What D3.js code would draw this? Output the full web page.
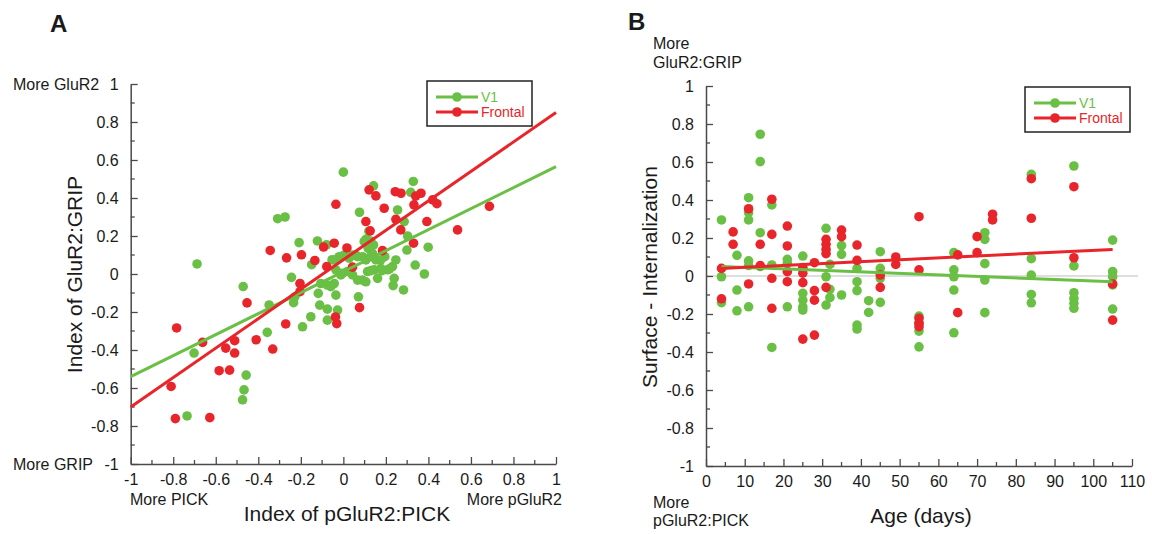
<!DOCTYPE html>
<html>
<head>
<meta charset="utf-8">
<script src="https://cdn.jsdelivr.net/npm/d3@7"></script>
<style>
  html, body { margin: 0; padding: 0; background: #fff; }
  svg { display: block; font-family: "Liberation Sans", Arial, sans-serif; }
</style>
</head>
<body>
<svg id="fig" width="1152" height="534"></svg>
<script>
// ---------- Panel A: index of pGluR2:PICK vs index of GluR2:GRIP ----------
const aV1 = [
  [-0.688, 0.053], [-0.471, -0.066], [-0.349, -0.163], [-0.358, -0.307], [-0.702, -0.416],
  [-0.457, -0.532], [-0.467, -0.61], [-0.474, -0.662], [-0.735, -0.747], [-0.309, 0.291],
  [-0.274, 0.30], [0.0, 0.536], [0.142, 0.464], [0.329, 0.487], [0.317, 0.43],
  [0.076, 0.325], [0.255, 0.337], [0.286, 0.276], [0.107, 0.183], [0.098, 0.171],
  [0.129, 0.174], [0.142, 0.153], [0.12, 0.225], [0.302, 0.2], [0.399, 0.141], [-0.208, 0.165],
  [-0.122, 0.174], [-0.079, 0.154], [0.299, 0.126], [0.195, 0.091], [0.338, 0.047],
  [0.381, 0.0], [-0.244, -0.018], [0.283, -0.084], [-0.234, -0.151], [-0.228, -0.12],
  [0.071, -0.12], [-0.111, -0.164], [-0.075, -0.185], [-0.027, -0.19], [-0.075, -0.243],
  [-0.153, -0.225], [-0.192, -0.278], [-0.118, -0.102], [-0.059, -0.067], [-0.035, -0.111],
  [-0.043, 0.074], [-0.02, 0.091], [0.004, 0.1], [0.027, 0.083], [0.043, 0.1],
  [0.067, 0.091], [0.09, 0.091], [0.106, 0.074], [0.129, 0.091], [0.153, 0.074],
  [0.176, 0.074], [-0.035, 0.022], [-0.004, 0.004], [0.019, 0.013], [0.043, -0.005],
  [0.067, -0.032], [0.09, -0.032], [0.106, -0.041], [0.114, 0.013], [0.145, 0.022],
  [0.176, 0.03], [0.208, 0.022], [0.231, 0.039], [0.247, 0.074], [0.239, -0.023],
  [0.161, -0.023], [-0.106, -0.05], [-0.075, -0.058], [-0.043, -0.05], [-0.012, -0.005],
  [0.117, 0.135], [0.137, 0.109], [-0.149, 0.049], [0.234, -0.061], [0.06, 0.098],
  [-0.053, 0.075], [0.13, 0.018], [0.182, 0.018], [0.217, 0.027]
];
const aFrontal = [
  [-0.784, -0.284], [-0.662, -0.36], [-0.553, -0.39], [-0.511, -0.351], [-0.511, -0.416],
  [-0.584, -0.509], [-0.535, -0.506], [-0.41, -0.346], [-0.332, -0.395], [-0.453, -0.152],
  [-0.271, -0.263], [-0.81, -0.592], [-0.79, -0.761], [-0.628, -0.756], [-0.344, 0.124],
  [-0.267, 0.085], [0.121, 0.443], [0.153, 0.411], [0.244, 0.433], [0.271, 0.425],
  [0.34, 0.41], [0.365, 0.425], [0.42, 0.39], [0.44, 0.37], [0.332, 0.364],
  [-0.035, 0.367], [0.192, 0.346], [0.106, 0.276], [0.247, 0.288], [0.126, 0.227],
  [0.27, 0.232], [0.393, 0.276], [0.537, 0.232], [0.687, 0.356], [0.33, 0.162],
  [0.184, 0.123], [-0.197, 0.101], [-0.134, 0.071], [-0.093, 0.142], [-0.043, 0.162],
  [0.017, 0.137], [-0.078, 0.039], [0.043, 0.036], [-0.204, -0.05], [-0.204, -0.093],
  [0.076, -0.177], [-0.037, -0.226], [-0.031, -0.261]
];
const aFitV1 = [[-1, -0.54], [1, 0.565]];
const aFitFrontal = [[-1, -0.70], [1, 0.85]];

// ---------- Panel B: surface minus internalization vs age ----------
const bV1 = [
  [4, 0.295], [4, -0.004], [4, -0.14],
  [8, 0.109], [8, -0.074], [8, -0.183],
  [11, 0.412], [11, 0.333], [11, 0.295], [11, 0.08], [11, 0.055], [11, -0.162],
  [14, 0.746], [14, 0.602], [14, 0.228], [14, 0.05],
  [17, 0.374], [17, 0.058], [17, -0.376],
  [21, 0.088], [21, 0.067], [21, -0.162],
  [25, 0.105], [25, 0.04], [25, -0.091], [25, -0.127], [25, -0.162], [25, -0.179],
  [31, 0.251], [31, -0.004], [31, -0.153],
  [32, 0.061], [32, -0.07], [32, -0.114],
  [35, 0.16], [35, 0.114], [35, -0.1],
  [39, 0.04], [39, -0.03], [39, -0.077], [39, -0.258], [39, -0.279],
  [42, -0.13], [42, -0.192],
  [45, 0.128], [45, 0.04], [45, -0.012], [45, -0.139],
  [55, -0.211], [55, -0.246], [55, -0.29], [55, -0.373],
  [64, 0.123], [64, 0.032], [64, -0.004], [64, -0.074], [64, -0.299],
  [72, 0.228], [72, 0.193], [72, 0.065], [72, -0.021], [72, -0.193],
  [84, 0.535], [84, 0.091], [84, 0.005], [84, -0.097], [84, -0.141],
  [95, 0.579], [95, 0.053], [95, -0.088], [95, -0.118], [95, -0.144], [95, -0.17],
  [105, 0.189], [105, 0.023], [105, -0.004], [105, -0.047], [105, -0.174]
];
const bFrontal = [
  [4, 0.04], [4, -0.12],
  [7, 0.232], [7, 0.167],
  [11, 0.354], [11, -0.042],
  [14, 0.167], [14, 0.055],
  [17, 0.404], [17, 0.219], [17, -0.012], [17, -0.17],
  [21, 0.263], [21, 0.158], [21, 0.023], [21, -0.03],
  [25, 0.045], [25, 0.015], [25, -0.035], [25, -0.332],
  [28, 0.07], [28, -0.077], [28, -0.127], [28, -0.311],
  [31, 0.193], [31, 0.167], [31, 0.14], [31, 0.118], [31, -0.06],
  [35, 0.242], [35, 0.207],
  [39, 0.163], [39, 0.082],
  [45, 0.005], [45, -0.06],
  [49, 0.1], [49, 0.061],
  [55, 0.312], [55, 0.032], [55, -0.223], [55, -0.25], [55, -0.267],
  [65, 0.111], [65, -0.193],
  [70, 0.207], [70, 0.123],
  [74, 0.325], [74, 0.295],
  [84, 0.512], [84, 0.304],
  [95, 0.47], [95, 0.096],
  [105, -0.042], [105, -0.232]
];
const bFitV1 = [[4, 0.05], [105, -0.03]];
const bFitFrontal = [[4, 0.04], [105, 0.14]];

// tick values
const aXTicks = [-1, -0.8, -0.6, -0.4, -0.2, 0, 0.2, 0.4, 0.6, 0.8, 1];
const valTicks = [-1, -0.8, -0.6, -0.4, -0.2, 0, 0.2, 0.4, 0.6, 0.8, 1];
const bXTicks = [0, 10, 20, 30, 40, 50, 60, 70, 80, 90, 100, 110];
const seriesNames = ["V1", "Frontal"];

const GREEN = "#6abf45";
const RED = "#e8252a";
const AXIS = "#4a4a4a";
const TEXT = "#1a1a1a";
const R = 4.8;

const svg = d3.select("#fig");
const fmt = d => String(+d.toFixed(1));

function drawAxes(g, x, y, xTicks, xMinor, yMinor) {
  const [x0, x1] = x.range();
  const [y0, y1] = y.range();
  // minor ticks
  const xm = g.append("g");
  xm.selectAll("line").data(xMinor).join("line")
    .attr("x1", d => x(d)).attr("x2", d => x(d))
    .attr("y1", y0).attr("y2", y0 - 4)
    .attr("stroke", AXIS).attr("stroke-width", 1.3);
  const ym = g.append("g");
  ym.selectAll("line").data(yMinor).join("line")
    .attr("x1", x0).attr("x2", x0 + 4)
    .attr("y1", d => y(d)).attr("y2", d => y(d))
    .attr("stroke", AXIS).attr("stroke-width", 1.3);

  const xAxis = g.append("g").attr("transform", `translate(0,${y0})`)
    .call(d3.axisBottom(x).tickValues(xTicks).tickFormat(fmt).tickSizeInner(-7).tickSizeOuter(0).tickPadding(12));
  const yAxis = g.append("g").attr("transform", `translate(${x0},0)`)
    .call(d3.axisLeft(y).tickValues(valTicks).tickFormat(fmt).tickSizeInner(-7).tickSizeOuter(0).tickPadding(12));
  [xAxis, yAxis].forEach(a => {
    a.select(".domain").attr("stroke", AXIS).attr("stroke-width", 1.5);
    a.selectAll(".tick line").attr("stroke", AXIS).attr("stroke-width", 1.3);
    a.selectAll(".tick text").attr("fill", TEXT).attr("font-size", 16)
      .attr("font-family", "'Liberation Sans', Arial, sans-serif");
  });
  xAxis.selectAll(".tick text").attr("dy", "0.71em").attr("y", 10);
}

function drawPoints(g, x, y, data, color) {
  g.append("g").selectAll("circle").data(data).join("circle")
    .attr("cx", d => x(d[0])).attr("cy", d => y(d[1]))
    .attr("r", R).attr("fill", color);
}

function drawFit(g, x, y, pts, color) {
  g.append("path").datum(pts)
    .attr("d", d3.line().x(d => x(d[0])).y(d => y(d[1])))
    .attr("stroke", color).attr("stroke-width", 3).attr("fill", "none");
}

function drawLegend(g, bx, by) {
  g.append("rect").attr("x", bx).attr("y", by).attr("width", 105).attr("height", 45)
    .attr("fill", "#fff").attr("stroke", "#222").attr("stroke-width", 1.5);
  const colors = [GREEN, RED];
  seriesNames.forEach((name, i) => {
    const ly = by + 16 + i * 15;
    g.append("line").attr("x1", bx + 9).attr("x2", bx + 51).attr("y1", ly).attr("y2", ly)
      .attr("stroke", colors[i]).attr("stroke-width", 3);
    g.append("circle").attr("cx", bx + 30).attr("cy", ly).attr("r", R).attr("fill", colors[i]);
    g.append("text").attr("x", bx + 54).attr("y", ly + 5).text(name)
      .attr("fill", colors[i]).attr("font-size", 14);
  });
}

function label(g, txt, x, y, opts = {}) {
  const t = g.append("text").attr("x", x).attr("y", y).text(txt)
    .attr("fill", TEXT).attr("font-size", opts.size || 16)
    .attr("text-anchor", opts.anchor || "start");
  if (opts.weight) t.attr("font-weight", opts.weight);
  if (opts.rotate) t.attr("transform", `rotate(-90,${x},${y})`);
  return t;
}

// ----- Panel A -----
{
  const g = svg.append("g");
  const x = d3.scaleLinear().domain([-1, 1]).range([130.7, 556]);
  const y = d3.scaleLinear().domain([-1, 1]).range([464, 84]);
  const minor = d3.range(-9, 10, 2).map(v => v / 10);
  drawAxes(g, x, y, aXTicks, minor, minor);
  drawPoints(g, x, y, aV1, GREEN);
  drawPoints(g, x, y, aFrontal, RED);
  drawFit(g, x, y, aFitV1, GREEN);
  drawFit(g, x, y, aFitFrontal, RED);
  drawLegend(g, 427, 81);

  label(g, "A", 50, 32, { size: 24, weight: 900 });
  label(g, "More GluR2", 13, y(1) + 6);
  label(g, "More GRIP", 13, y(-1) + 6);
  label(g, "More PICK", 130, 505);
  label(g, "More pGluR2", 562, 505, { anchor: "end" });
  label(g, "Index of pGluR2:PICK", 347, 521, { size: 21, anchor: "middle" });
  label(g, "Index of GluR2:GRIP", 82, 274.5, { size: 21, anchor: "middle", rotate: true });
}

// ----- Panel B -----
{
  const g = svg.append("g");
  const x = d3.scaleLinear().domain([0, 110]).range([706, 1132]);
  const y = d3.scaleLinear().domain([-1, 1]).range([466, 86]);
  g.append("line").attr("x1", x(0)).attr("x2", x(110) + 6)
    .attr("y1", y(0)).attr("y2", y(0))
    .attr("stroke", "#bdbdbd").attr("stroke-width", 1.2);
  const xMinor = d3.range(5, 110, 10);
  const yMinor = d3.range(-9, 10, 2).map(v => v / 10);
  drawAxes(g, x, y, bXTicks, xMinor, yMinor);
  drawPoints(g, x, y, bV1, GREEN);
  drawPoints(g, x, y, bFrontal, RED);
  drawFit(g, x, y, bFitV1, GREEN);
  drawFit(g, x, y, bFitFrontal, RED);
  drawLegend(g, 1025, 87);

  label(g, "B", 628, 30, { size: 24, weight: 900 });
  label(g, "More", 653, 49);
  label(g, "GluR2:GRIP", 653, 68);
  label(g, "More", 653, 508);
  label(g, "pGluR2:PICK", 653, 526);
  label(g, "Age (days)", 921, 523, { size: 21, anchor: "middle" });
  label(g, "Surface - Internalization", 657, 277, { size: 21, anchor: "middle", rotate: true });
}
</script>
</body>
</html>
